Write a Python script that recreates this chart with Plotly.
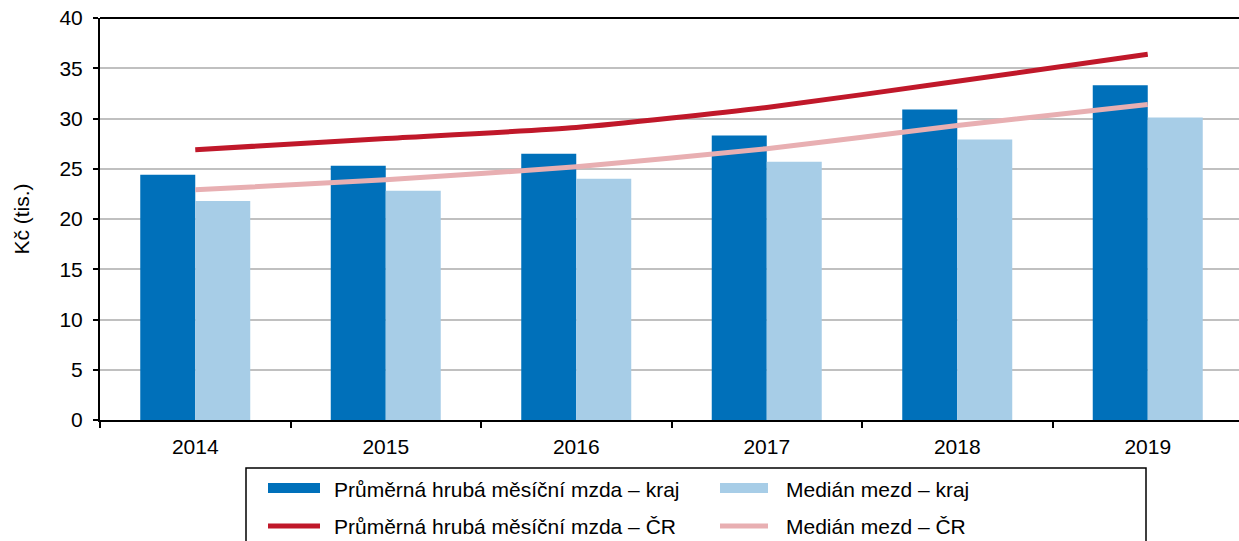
import plotly.graph_objects as go

years = ["2014", "2015", "2016", "2017", "2018", "2019"]
avg_kraj = [24.4, 25.3, 26.5, 28.3, 30.9, 33.3]
median_kraj = [21.8, 22.8, 24.0, 25.7, 27.9, 30.1]
avg_cr = [26.9, 28.0, 29.1, 31.1, 33.7, 36.4]
median_cr = [22.9, 23.9, 25.2, 27.0, 29.3, 31.4]

names = [
    "Průměrná hrubá měsíční mzda – kraj",
    "Medián mezd – kraj",
    "Průměrná hrubá měsíční mzda – ČR",
    "Medián mezd – ČR",
]
c_dark = "#0070BA"
c_light = "#A7CDE7"
c_red = "#C0182A"
c_pink = "#E8AFB2"

FONT = "Liberation Sans, Arial, sans-serif"
W, H = 1239, 541
# plot area bounds in pixels
L, T, B = 100, 18, 420
R = W
STEP = 190.5  # pixels per category


def px(x):
    return (x - L) / (R - L)


def py(y):
    return (B - y) / (B - T)


fig = go.Figure()
fig.add_trace(go.Bar(x=years, y=avg_kraj, name=names[0], marker_color=c_dark,
                     marker_line_width=0, showlegend=False))
fig.add_trace(go.Bar(x=years, y=median_kraj, name=names[1], marker_color=c_light,
                     marker_line_width=0, showlegend=False))
fig.add_trace(go.Scatter(x=years, y=avg_cr, name=names[2], mode="lines",
                         line=dict(color=c_red, width=5, shape="spline", smoothing=0.6),
                         showlegend=False))
fig.add_trace(go.Scatter(x=years, y=median_cr, name=names[3], mode="lines",
                         line=dict(color=c_pink, width=5, shape="spline", smoothing=0.6),
                         showlegend=False))

shapes = [
    dict(type="line", xref="paper", yref="paper", x0=0, x1=1, y0=1, y1=1,
         line=dict(color="black", width=2)),
    dict(type="rect", xref="paper", yref="paper", x0=px(246), x1=px(1146),
         y0=py(468), y1=py(600), line=dict(color="black", width=1.5)),
    dict(type="rect", xref="paper", yref="paper", x0=px(268), x1=px(320),
         y0=py(493), y1=py(483), fillcolor=c_dark, line_width=0),
    dict(type="rect", xref="paper", yref="paper", x0=px(720), x1=px(768),
         y0=py(493), y1=py(483), fillcolor=c_light, line_width=0),
    dict(type="line", xref="paper", yref="paper", x0=px(268), x1=px(320),
         y0=py(526), y1=py(526), line=dict(color=c_red, width=5)),
    dict(type="line", xref="paper", yref="paper", x0=px(720), x1=px(768),
         y0=py(526), y1=py(526), line=dict(color=c_pink, width=5)),
]

annotations = []
for name, xx, yy in [(names[0], 332, 489), (names[1], 784, 489),
                     (names[2], 332, 526), (names[3], 784, 526)]:
    annotations.append(dict(text=name, xref="paper", yref="paper", x=px(xx), y=py(yy),
                            xanchor="left", yanchor="middle", showarrow=False,
                            font=dict(size=21, color="black", family=FONT)))

fig.update_layout(
    width=W, height=H,
    margin=dict(l=L, r=W - R, t=T, b=H - B, pad=0),
    paper_bgcolor="white", plot_bgcolor="white",
    barmode="group", bargap=0.4226, bargroupgap=0,
    font=dict(family=FONT, size=21, color="black"),
    shapes=shapes, annotations=annotations,
    showlegend=False,
)
fig.update_xaxes(
    type="category", range=[-0.5, -0.5 + (R - L) / STEP], showline=True,
    linecolor="black", linewidth=2,
    ticks="outside", tickson="boundaries", ticklen=6, tickwidth=2, tickcolor="black",
    showgrid=False, ticklabelstandoff=7, tickfont=dict(size=21),
)
fig.update_yaxes(
    range=[0, 40], dtick=5, showline=True, linecolor="black", linewidth=2,
    ticks="outside", ticklen=5, tickwidth=2, tickcolor="black",
    showgrid=True, gridcolor="#C0C0C0", gridwidth=1.5, zeroline=False,
    ticklabelstandoff=6, tickfont=dict(size=21), ticklabeloverflow="allow",
    title=dict(text="Kč (tis.)", font=dict(size=21), standoff=24),
)

fig.write_html(
    "out.html",
    config={"displayModeBar": False},
    post_script="document.body.style.margin='0';document.body.style.overflow='hidden';",
)
